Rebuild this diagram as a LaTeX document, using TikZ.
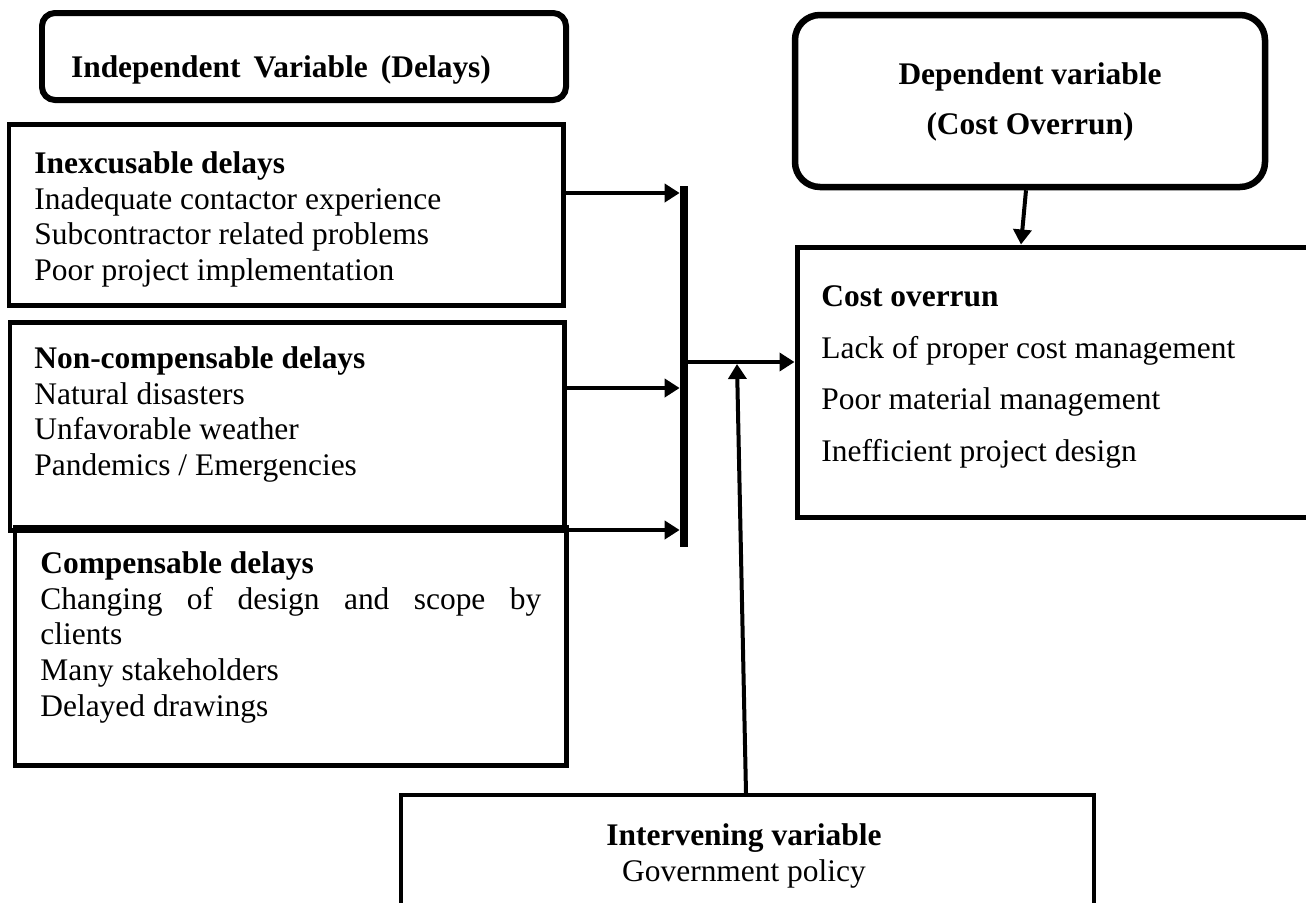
\documentclass[tikz,border=0pt]{standalone}
\usepackage{fontspec}
\setmainfont{Liberation Serif}
\usetikzlibrary{arrows.meta,fit}

\begin{document}
\begin{tikzpicture}[x=0.02cm, y=-0.02cm,
    box/.style={draw=black, line width=0.1cm, inner sep=0pt},
    arr/.style={-{Triangle[length=0.3cm, width=0.36cm]}, line width=0.08cm},
    lbl/.style={inner sep=0pt, anchor=north west, align=left, font=\fontsize{17.9}{20.4}\selectfont}]
    \clip (0,0) rectangle (1306,903);

    % boxes
    \node[box, line width=0.12cm, rounded corners=0.26cm, fit={(42,13) (566,100)}] (indep) {};
    \node[box, fit={(9,124) (563,305)}] (inex) {};
    \node[box, fit={(10,322) (564,530)}] (noncomp) {};
    \node[box, fit={(15,527) (566,765)}] (comp) {};
    \node[box, line width=0.13cm, rounded corners=0.5cm, fit={(795,15) (1265,187)}] (dep) {};
    \node[box, fit={(797,247) (1320,517)}] (cost) {};
    \node[box, line width=0.08cm, fit={(401,795) (1094,920)}] (interv) {};
    \node[fill=black, inner sep=0pt, fit={(680,186) (688,547)}] (bar) {};

    % texts
    \node[inner sep=0pt, font=\fontsize{17.9}{20.4}\selectfont\bfseries] (indeptxt) at (281,70) {Independent\ \,Variable\ \,(Delays)};
    \node[lbl] (inextxt) at (34,151) {\textbf{Inexcusable delays}\\Inadequate contactor experience\\Subcontractor related problems\\Poor project implementation};
    \node[lbl] (noncomptxt) at (34,346) {\textbf{Non-compensable delays}\\Natural disasters\\Unfavorable weather\\Pandemics / Emergencies};
    \node[lbl] (comptxt) at (40,551) {\textbf{Compensable delays}\\\hbox to 10.02cm{Changing\hfill of\hfill design\hfill and\hfill scope\hfill by}\\clients\\Many stakeholders\\Delayed drawings};
    \node[inner sep=0pt, anchor=north, align=center, font=\fontsize{17.9}{28.5}\selectfont\bfseries] (deptxt) at (1030,62) {Dependent variable\\(Cost Overrun)};
    \node[lbl, font=\fontsize{17.9}{29.5}\selectfont] (costtxt) at (821,285) {\textbf{Cost overrun}\\Lack of proper cost management\\Poor material management\\Inefficient project design};
    \node[inner sep=0pt, anchor=north, align=center, font=\fontsize{17.9}{20.4}\selectfont] (intervtxt) at (744,823) {\textbf{Intervening variable}\\Government policy};

    % connectors
    \coordinate (join) at (737,364);
    \draw[arr] (inex.east |- 0,193) -- (bar.west |- 0,193);
    \draw[arr] (noncomp.east |- 0,388) -- (bar.west |- 0,388);
    \draw[arr] (comp.east |- 0,530) -- (bar.west |- 0,530);
    \draw[arr] (bar.east |- 0,362) -- (cost.west |- 0,362);
    \draw[arr] (dep.south -| 1026,0) -- (cost.north -| 1021,0);
    \draw[arr] (interv.north -| 746,0) -- (join);
\end{tikzpicture}
\end{document}
